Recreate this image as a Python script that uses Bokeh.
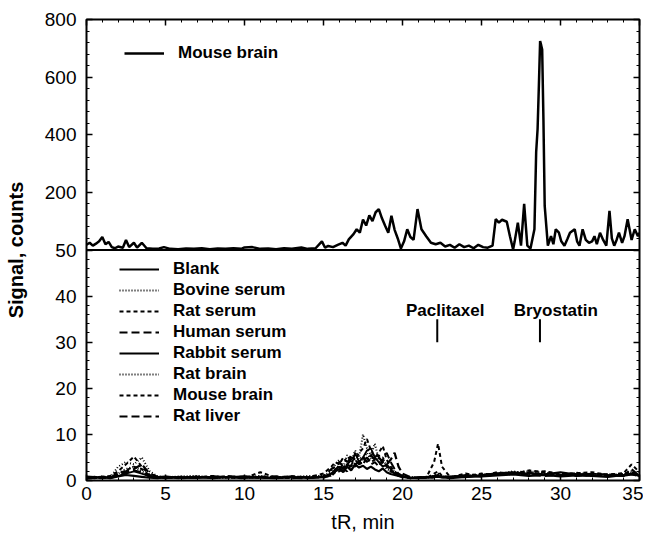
from bokeh.plotting import figure
from bokeh.models import (Range1d, LinearAxis, FixedTicker, Span, Legend, LegendItem,
                          ColumnDataSource)
from bokeh.core.properties import value
from bokeh.embed import file_html
from bokeh.resources import INLINE

# ---------------- data ----------------
# upper panel: mouse brain, counts (0-800)
mouse_top_t = [0, 0.2, 0.4, 0.6, 0.8, 1.0, 1.2, 1.4, 1.6, 1.8,
               2.0, 2.3, 2.5, 2.7, 3.0, 3.2, 3.5, 3.8, 4.2, 4.6,
               4.9, 5.3, 5.8, 6.3, 6.8, 7.3, 7.8, 8.3, 8.8, 9.3,
               9.8, 10.0, 10.5, 11.0, 11.5, 12.0, 12.5, 13.0, 13.6, 14.0,
               14.5, 14.9, 15.1, 15.3, 15.6, 15.9, 16.2, 16.4, 16.6, 16.9,
               17.1, 17.3, 17.5, 17.7, 17.9, 18.1, 18.3, 18.5, 18.7, 18.9,
               19.1, 19.3, 19.5, 19.7, 19.9, 20.1, 20.3, 20.5, 20.7, 20.95,
               21.2, 21.5, 21.8, 22.1, 22.4, 22.7, 23.0, 23.3, 23.6, 23.9,
               24.2, 24.5, 24.8, 25.1, 25.4, 25.7, 25.9, 26.1, 26.3, 26.6,
               26.8, 27.0, 27.1, 27.3, 27.5, 27.7, 27.9, 28.1, 28.35, 28.46,
               28.55, 28.63, 28.71, 28.78, 28.84, 28.92, 29.0, 29.2, 29.4, 29.55,
               29.7, 29.9, 30.05, 30.25, 30.45, 30.6, 30.9, 31.05, 31.2, 31.4,
               31.6, 31.8, 32.0, 32.15, 32.3, 32.5, 32.7, 32.9, 33.1, 33.25,
               33.4, 33.55, 33.7, 33.9, 34.05, 34.25, 34.5, 34.7, 34.9, 35.0]
mouse_top_counts = [18, 25, 15, 22, 30, 45, 20, 28, 10, 6,
                    12, 8, 35, 10, 25, 8, 25, 6, 4, 5,
                    10, 4, 3, 5, 4, 6, 3, 5, 4, 6,
                    4, 9, 10, 4, 5, 3, 6, 4, 9, 4,
                    6, 30, 8, 14, 10, 18, 25, 15, 37, 55,
                    72, 60, 106, 85, 120, 100, 131, 142, 110, 84,
                    60, 119, 70, 40, 5, 30, 72, 45, 35, 142,
                    72, 48, 25, 20, 25, 12, 18, 8, 20, 10,
                    15, 6, 18, 10, 8, 15, 107, 95, 105, 98,
                    48, 2, 30, 95, 15, 160, 15, 5, 72, 340,
                    420, 568, 725, 710, 696, 453, 153, 15, 48, 20,
                    72, 60, 30, 15, 40, 60, 72, 30, 15, 72,
                    35, 25, 30, 48, 20, 60, 35, 15, 136, 40,
                    15, 35, 60, 25, 48, 107, 35, 72, 48, 60]

# lower panel: time grid shared by the eight matrices, counts (0-50)
t_low = [0, 0.5, 1, 1.5, 2, 2.5, 3, 3.5, 4, 4.5, 5,
         6, 7, 8, 9, 10, 11, 12, 13, 14, 15,
         15.5, 15.75, 16, 16.25, 16.5, 16.75, 17, 17.25, 17.5, 17.75,
         18, 18.25, 18.5, 18.75, 19, 19.25, 19.5, 19.75, 20,
         20.5, 21, 21.5, 22, 22.25, 22.5,
         23, 24, 25, 26, 27, 28, 29, 30, 31, 32, 33, 34, 34.5, 35]

blank = [0.8, 0.6, 0.7, 0.5, 0.9, 1.2, 1.0, 0.8, 0.6, 0.5, 0.7,
         0.6, 0.8, 0.5, 0.7, 0.9, 0.6, 0.5, 0.7, 0.6, 0.8,
         1.5, 2.0, 2.5, 1.8, 3.0, 2.2, 3.5, 2.8, 3.2, 2.5, 3.0, 2.4, 2.0, 2.6, 1.8, 1.4, 1.2, 1.0, 0.8,
         0.6, 0.5, 0.7, 0.9, 1.0, 0.7,
         0.5, 0.8, 0.9, 1.1, 1.3, 1.0, 1.2, 0.9, 1.1, 1.0, 0.8, 1.2, 1.5, 1.0]
bovine_serum = [0.5, 0.7, 0.6, 0.8, 1.5, 2.5, 3.0, 2.0, 1.0, 0.6, 0.5,
                0.7, 0.9, 0.6, 0.5, 0.8, 1.0, 0.6, 0.5, 0.8, 1.0,
                2.0, 3.5, 4.5, 3.0, 5.5, 4.0, 6.5, 5.0, 10.0, 7.0, 5.5, 8.0, 4.5, 3.5, 2.5, 2.0, 1.5, 1.0, 0.8,
                0.6, 0.5, 0.6, 0.8, 1.0, 0.7,
                0.8, 1.0, 1.3, 1.5, 1.8, 2.0, 1.6, 1.3, 1.5, 1.2, 1.0, 1.4, 2.0, 1.2]
rat_serum = [0.6, 0.5, 0.8, 1.0, 2.0, 3.5, 5.2, 3.0, 1.2, 0.7, 0.6,
             0.5, 0.7, 1.0, 0.6, 0.5, 1.8, 0.6, 0.5, 0.7, 1.5,
             3.0, 4.0, 3.5, 5.0, 4.0, 5.5, 4.5, 6.0, 7.0, 9.0, 6.5, 5.0, 6.0, 7.5, 4.5, 3.0, 2.0, 1.2, 0.9,
             0.5, 0.6, 0.5, 1.5, 2.0, 1.0,
             0.7, 1.5, 1.0, 1.8, 1.4, 2.2, 1.8, 1.5, 1.2, 1.0, 1.3, 1.6, 3.5, 1.8]
human_serum = [0.4, 0.6, 0.5, 0.7, 1.2, 2.0, 2.5, 3.5, 1.5, 0.8, 0.5,
               0.8, 0.6, 0.9, 0.7, 0.6, 0.8, 0.9, 0.6, 0.5, 0.9,
               2.5, 3.0, 4.0, 3.0, 3.5, 4.5, 3.5, 4.0, 5.0, 4.0, 5.5, 4.5, 5.0, 4.0, 3.5, 4.5, 6.0, 3.0, 1.5,
               0.7, 0.6, 0.8, 0.6, 0.9, 0.8,
               0.6, 1.2, 0.9, 1.4, 1.6, 1.3, 1.0, 1.2, 1.4, 1.0, 1.1, 1.0, 1.4, 0.9]
rabbit_serum = [0.9, 0.8, 0.6, 0.8, 1.0, 1.5, 2.0, 1.5, 0.9, 0.8, 0.9,
                0.6, 0.5, 0.8, 0.7, 0.6, 0.7, 0.5, 0.8, 0.6, 0.7,
                1.5, 2.5, 3.0, 2.0, 3.5, 3.0, 6.0, 4.0, 5.0, 6.5, 7.0, 5.0, 4.0, 3.0, 3.5, 2.5, 1.5, 1.0, 0.8,
                0.5, 0.7, 0.6, 0.7, 0.8, 0.6,
                0.9, 0.7, 1.2, 1.6, 1.8, 1.5, 1.4, 1.8, 1.3, 1.5, 1.2, 1.0, 1.3, 1.1]
rat_brain = [0.7, 0.5, 0.9, 0.6, 3.0, 4.0, 3.5, 5.0, 2.0, 0.9, 0.7,
             0.9, 1.0, 0.5, 0.8, 0.7, 0.6, 0.8, 0.7, 1.0, 0.8,
             1.0, 2.0, 2.5, 2.0, 3.0, 2.5, 4.0, 5.0, 4.5, 6.0, 4.5, 5.5, 4.5, 5.0, 3.0, 2.5, 2.0, 1.0, 0.7,
             0.8, 0.5, 0.7, 1.0, 1.5, 0.8,
             0.7, 1.0, 1.1, 1.2, 2.0, 1.4, 1.6, 1.1, 1.7, 1.3, 1.4, 1.2, 1.6, 1.3]
mouse_brain = [0.5, 0.8, 0.6, 0.9, 1.5, 2.2, 3.0, 2.5, 1.0, 0.6, 0.8,
               0.6, 0.8, 0.7, 0.9, 0.5, 0.8, 0.7, 0.9, 0.6, 0.8,
               1.0, 1.8, 2.0, 2.5, 2.0, 3.5, 3.0, 4.0, 3.5, 5.0, 4.0, 4.5, 5.5, 4.0, 3.0, 2.0, 1.5, 1.2, 0.9,
               0.6, 0.7, 0.6, 4.0, 8.0, 3.0,
               0.8, 0.9, 1.5, 1.2, 1.5, 1.8, 2.0, 1.4, 1.6, 1.8, 1.2, 1.5, 1.8, 1.4]
rat_liver = [0.6, 0.7, 0.8, 0.5, 1.0, 1.8, 2.2, 1.8, 0.8, 0.7, 0.6,
             0.7, 0.8, 0.6, 0.9, 0.8, 0.5, 0.6, 0.9, 0.7, 0.6,
             1.2, 2.0, 3.5, 2.5, 4.0, 5.0, 4.5, 3.5, 4.0, 5.0, 3.5, 4.0, 3.0, 4.5, 6.0, 4.0, 2.5, 1.5, 1.0,
             0.5, 0.8, 0.7, 1.0, 1.2, 0.9,
             0.8, 1.1, 1.0, 1.3, 1.5, 1.7, 1.2, 1.6, 1.0, 1.4, 1.3, 1.1, 2.5, 1.0]

low_names = ["Blank", "Bovine serum", "Rat serum", "Human serum",
             "Rabbit serum", "Rat brain", "Mouse brain", "Rat liver"]
low_series = [blank, bovine_serum, rat_serum, human_serum,
              rabbit_serum, rat_brain, mouse_brain, rat_liver]

# left-axis ticks: lower panel 0-50, upper panel 200-800
y_tick_labels = ["0", "10", "20", "30", "40", "50", "200", "400", "600", "800"]
x_tick_values = [0, 5, 10, 15, 20, 25, 30, 35]

# compound retention markers (lower panel)
marker_names = ["Paclitaxel", "Bryostatin"]
marker_t = [22.2, 28.7]
marker_label_t = [22.7, 29.7]
marker_top = [35.0]
marker_bottom = [30.0]

# ---------------- figure ----------------
FONT = "Liberation Sans"
FRAME_H = 461
p = figure(frame_width=553, frame_height=FRAME_H, output_backend="svg", toolbar_location=None,
           x_range=Range1d(0, 35), y_range=Range1d(0, 100),
           min_border_left=86, min_border_right=4, min_border_top=19, min_border_bottom=40)
p.extra_y_ranges = {"top": Range1d(-800, 800)}
p.grid.visible = False
p.background_fill_color = "white"
p.outline_line_color = "black"
p.outline_line_width = 2

dash_styles = ["solid", "1 2", "4 3", "8 4", "solid", "1 2", "4 3", "8 4"]
widths = [2.2, 2.0, 2.0, 2.2, 1.8, 2.0, 2.0, 2.0]

low_items = []
for name, ys, dash, w in zip(low_names, low_series, dash_styles, widths):
    r = p.line(t_low, ys, line_color="black", line_width=w, line_dash=dash)
    low_items.append(LegendItem(label=name, renderers=[r]))

rt = p.line(mouse_top_t, mouse_top_counts, y_range_name="top",
            line_color="black", line_width=2.5)

p.add_layout(Span(location=50, dimension="width", line_color="black", line_width=2))

# markers
src = ColumnDataSource(dict(t=marker_t, lt=marker_label_t, name=marker_names,
                            y0=marker_top * len(marker_t), y1=marker_bottom * len(marker_t),
                            ty=[36.8] * len(marker_t)))
p.segment(x0="t", x1="t", y0="y0", y1="y1", source=src, line_color="black", line_width=2)
p.text(x="lt", y="ty", text="name", source=src, text_align="center", text_baseline="middle",
       text_font=value(FONT), text_font_style="bold", text_font_size="17px", text_color="black")

# axes
xa = p.xaxis[0]
xa.ticker = FixedTicker(ticks=x_tick_values, minor_ticks=list(range(0, 36)))
xa.axis_label = "tR, min"
ya = p.yaxis[0]
y_ticks = [0, 10, 20, 30, 40, 50, 62.5, 75, 87.5, 100]
y_minor = [i * 2 for i in range(26)] + [50 + i * 2.5 for i in range(21)]
ya.ticker = FixedTicker(ticks=y_ticks, minor_ticks=y_minor)
ya.major_label_overrides = {k: v for k, v in zip(y_ticks, y_tick_labels)}
ya.axis_label = "Signal, counts"

for ax in (xa, ya):
    ax.axis_line_color = None
    ax.major_tick_in = 6
    ax.major_tick_out = 0
    ax.minor_tick_in = 3
    ax.minor_tick_out = 0
    ax.major_tick_line_width = 1.5
    ax.major_label_text_font = FONT
    ax.major_label_text_font_size = "19px"
    ax.major_label_text_color = "black"
    ax.axis_label_text_font = FONT
    ax.axis_label_text_color = "black"
    ax.axis_label_text_font_style = "normal"
xa.axis_label_text_font_size = "20px"
xa.major_label_standoff = 6
xa.axis_label_standoff = 8
ya.axis_label_text_font_style = "bold"
ya.axis_label_text_font_size = "20px"
ya.major_label_standoff = 10
ya.axis_label_standoff = 15

# tick-only axes on right and top (labels blank)
ra = LinearAxis(ticker=FixedTicker(ticks=y_ticks, minor_ticks=y_minor))
ra.major_label_overrides = {k: "" for k in y_ticks}
ta = LinearAxis(ticker=FixedTicker(ticks=x_tick_values, minor_ticks=list(range(0, 36))))
ta.major_label_overrides = {k: "" for k in x_tick_values}
for ax in (ra, ta):
    ax.axis_line_color = None
    ax.major_tick_in = 6
    ax.major_tick_out = 0
    ax.minor_tick_in = 3
    ax.minor_tick_out = 0
    ax.major_label_standoff = 0
    ax.major_tick_line_width = 1.5
p.add_layout(ra, "right")
p.add_layout(ta, "above")

# legends (location = bottom-left corner, px from the frame's bottom-left)
def make_legend(items, x, top_offset):
    n = len(items)
    h = n * 20 + (n - 1) * 1
    lg = Legend(items=items, location=(x, FRAME_H - top_offset - h))
    lg.glyph_width = 40
    lg.glyph_height = 20
    lg.label_height = 20
    lg.spacing = 1
    lg.padding = 0
    lg.margin = 0
    lg.label_standoff = 14
    lg.label_text_font = FONT
    lg.label_text_font_style = "bold"
    lg.label_text_font_size = "17px"
    lg.label_text_color = "black"
    lg.background_fill_alpha = 0
    lg.border_line_color = None
    return lg

p.add_layout(make_legend(low_items, 33, 240), "center")
p.add_layout(make_legend([LegendItem(label="Mouse brain", renderers=[rt])], 38, 24), "center")

open("out.html", "w").write(file_html(p, INLINE))
